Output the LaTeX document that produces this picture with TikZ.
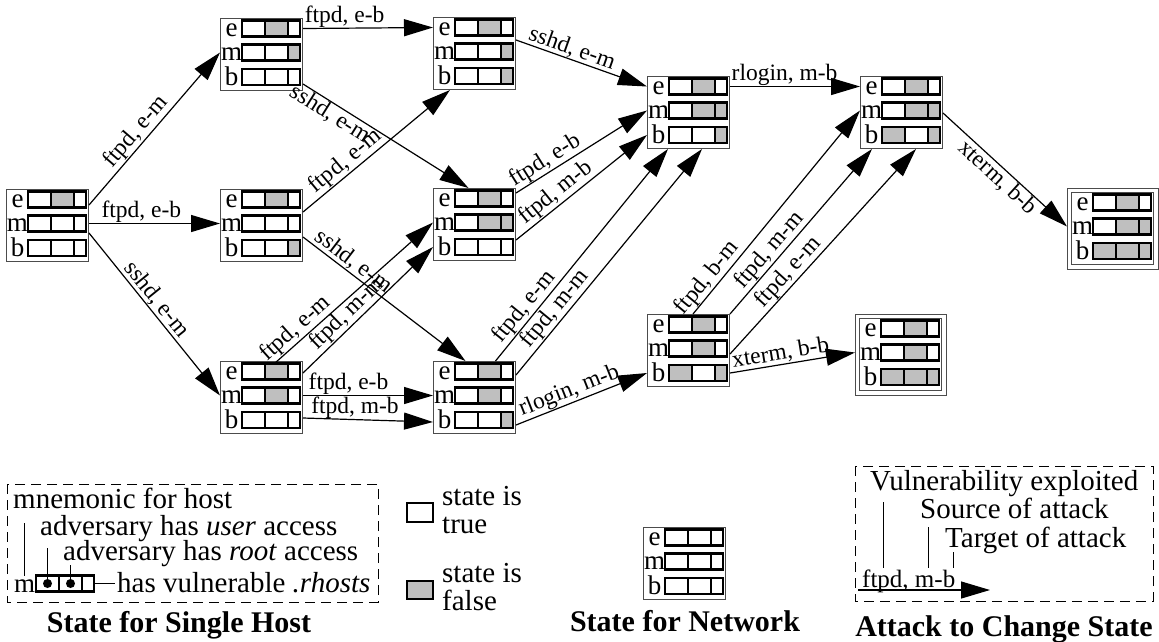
\documentclass[tikz,border=0pt]{standalone}
\usepackage{fontspec}
\setmainfont{Liberation Serif}
\usetikzlibrary{arrows.meta,calc}
\definecolor{cellgray}{gray}{0.75}
\definecolor{framegray}{gray}{0.3}

\tikzset{
  netbox/.style={draw=framegray, line width=1pt, minimum width=82pt, minimum height=72pt,
                 inner sep=0pt, anchor=north west, fill=white},
  rowlbl/.style={font=\fontsize{27}{27}\selectfont, inner sep=0pt, anchor=base},
  cell/.style={draw=black, line width=2.6pt},
  edge/.style={line width=1.2pt, -{Triangle[length=29pt,width=17pt]}},
  lbl/.style={font=\fontsize{23.5}{23.5}\selectfont, inner sep=0.5pt},
  legtext/.style={font=\fontsize{29}{28}\selectfont, inner sep=0pt, anchor=base west},
  captext/.style={font=\fontsize{30}{30}\selectfont\bfseries, inner sep=0pt, anchor=base},
  legbox/.style={draw, dash pattern=on 10pt off 6pt, line width=1pt},
  leader/.style={line width=1pt},
}

% one host: three cells (user, root, .rhosts), #1 = left end of the bar
\newcommand\hostbar[4]{%
  \path #1 coordinate (hb);
  \filldraw[cell, fill=#2] ($(hb)+(0,-8)$) rectangle ($(hb)+(23,8)$);
  \filldraw[cell, fill=#3] ($(hb)+(23,-8)$) rectangle ($(hb)+(46,8)$);
  \filldraw[cell, fill=#4] ($(hb)+(46,-8)$) rectangle ($(hb)+(58,8)$);
}

% network state: name, top-left corner, cell fills of hosts e, m, b
\newcommand\netstate[5]{%
  \node[netbox] (#1) at (#2) {};
  \node[rowlbl] (#1-le) at ($(#1.north west)+(11.5,18.5)$) {e};
  \node[rowlbl] (#1-lm) at ($(#1.north west)+(11.5,42.5)$) {m};
  \node[rowlbl] (#1-lb) at ($(#1.north west)+(11.5,67)$) {b};
  \hostbar{($(#1.north west)+(22,10.5)$)}#3
  \hostbar{($(#1.north west)+(22,34.5)$)}#4
  \hostbar{($(#1.north west)+(22,59)$)}#5
  \coordinate (#1-eW) at ($(#1.north west)+(0,10.5)$);
  \coordinate (#1-mW) at ($(#1.north west)+(0,34.5)$);
  \coordinate (#1-bW) at ($(#1.north west)+(0,59)$);
  \coordinate (#1-eE) at ($(#1.north east)+(0,10.5)$);
  \coordinate (#1-mE) at ($(#1.north east)+(0,34.5)$);
  \coordinate (#1-bE) at ($(#1.north east)+(0,59)$);
}

\begin{document}
\begin{tikzpicture}[x=1pt, y=-1pt]
\useasboundingbox (0,0) rectangle (1159,641);

% ---------------- attack graph states ----------------
\netstate{n0}{6,189}{{white}{cellgray}{white}}{{white}{white}{white}}{{white}{white}{white}}
\netstate{n1}{220,18}{{white}{cellgray}{white}}{{white}{white}{cellgray}}{{white}{white}{white}}
\netstate{n6}{220,189}{{white}{cellgray}{white}}{{white}{white}{white}}{{white}{white}{cellgray}}
\netstate{n8}{220,361}{{white}{cellgray}{white}}{{white}{cellgray}{white}}{{white}{white}{white}}
\netstate{n2}{433,17}{{white}{cellgray}{white}}{{white}{white}{cellgray}}{{white}{white}{cellgray}}
\netstate{n7}{433,188}{{white}{cellgray}{white}}{{white}{cellgray}{cellgray}}{{white}{white}{white}}
\netstate{n9}{433,361}{{white}{cellgray}{white}}{{white}{cellgray}{white}}{{white}{white}{cellgray}}
\netstate{n3}{647,76}{{white}{cellgray}{white}}{{white}{cellgray}{cellgray}}{{white}{white}{cellgray}}
\netstate{n10}{647,314}{{white}{cellgray}{white}}{{white}{cellgray}{white}}{{cellgray}{white}{cellgray}}
\netstate{n4}{860,76}{{white}{cellgray}{white}}{{white}{cellgray}{cellgray}}{{cellgray}{white}{cellgray}}
\netstate{n5}{1071,192}{{white}{cellgray}{white}}{{white}{cellgray}{cellgray}}{{cellgray}{cellgray}{cellgray}}
\netstate{n11}{859,318}{{white}{cellgray}{white}}{{white}{cellgray}{white}}{{cellgray}{cellgray}{cellgray}}

% goal states get a double frame
\draw[framegray, line width=1pt] ($(n5.north west)+(-4,-4)$) rectangle ($(n5.south east)+(4,4)$);
\draw[framegray, line width=1pt] ($(n11.north west)+(-4,-4)$) rectangle ($(n11.south east)+(4,4)$);

% ---------------- attacks ----------------
\draw[edge] ($(n0.north east)+(0,16)$) -- node[lbl, sloped, above, pos=.43] {ftpd, e-m} (n1-mW);
\draw[edge] (n0-mE) -- node[lbl, above, pos=.4] {ftpd, e-b} (n6-mW);
\draw[edge] ($(n0.north east)+(0,44)$) -- node[lbl, sloped, above, pos=.45] {sshd, e-m} (n8-mW);

\draw[edge] (n1-eE) -- node[lbl, above, pos=.32] {ftpd, e-b} (n2-eW);
\draw[edge] ($(n1.north east)+(0,66)$) -- node[lbl, sloped, below, pos=.2] {sshd, e-m} ($(n7.north)+(-6,0)$);

\draw[edge] ($(n6.north east)+(0,23)$) -- node[lbl, sloped, above, pos=.34] {ftpd, e-m} ($(n2.south west)+(17,0)$);
\draw[edge] ($(n6.north east)+(0,48)$) -- node[lbl, sloped, above, pos=.27] {sshd, e-m} ($(n9.north)+(-9,0)$);

\draw[edge] ($(n8.north west)+(55,2)$) -- node[lbl, sloped, above, pos=.18] {ftpd, e-m} (n7-mW);
\draw[edge] ($(n8.north east)+(0,12)$) -- node[lbl, sloped, above, pos=.4] {ftpd, m-m} (n7-bW);
\draw[edge] (n8-mE) -- node[lbl, above, pos=.35] {ftpd, e-b} (n9-mW);
\draw[edge] ($(n8.north east)+(0,57)$) -- node[lbl, above, pos=.4] {ftpd, m-b} ($(n9-bW)+(0,2)$);

\draw[edge] ($(n2.north east)+(0,23)$) -- node[lbl, sloped, above, pos=.4] {sshd, e-m} (n3-eW);
\draw[edge] ($(n7.north east)+(0,5)$) -- node[lbl, sloped, above, pos=.27] {ftpd, e-b} (n3-mW);
\draw[edge] ($(n7.north east)+(0,52)$) -- node[lbl, sloped, above, pos=.36] {ftpd, m-b} (n3-bW);
\draw[edge] ($(n9.north)+(21,0)$) -- node[lbl, sloped, above, pos=.22] {ftpd, e-m} ($(n3.south west)+(21,0)$);
\draw[edge] ($(n9.north east)+(0,14)$) -- node[lbl, sloped, above, pos=.26] {ftpd, m-m} ($(n3.south west)+(55,0)$);
\draw[edge] ($(n9.north east)+(0,64)$) -- node[lbl, sloped, above, pos=.44] {rlogin, m-b} (n10-bW);

\draw[edge] (n3-eE) -- node[lbl, above, pos=.42] {rlogin, m-b} (n4-eW);
\draw[edge] ($(n4.north east)+(0,37)$) -- node[lbl, sloped, below, pos=.5] {xterm, b-b} ($(n5-mW)+(-4,0)$);

\draw[edge] ($(n10.north west)+(46,0)$) -- node[lbl, sloped, above, pos=.14] {ftpd, b-m} (n4-mW);
\draw[edge] (n10.north east) -- node[lbl, sloped, above, pos=.34] {ftpd, m-m} ($(n4.south west)+(12,0)$);
\draw[edge] ($(n10.north east)+(0,40)$) -- node[lbl, sloped, above, pos=.36] {ftpd, e-m} ($(n4.south west)+(56,0)$);
\draw[edge] (n10-bE) -- node[lbl, sloped, above, pos=.42] {xterm, b-b} ($(n11-mW)+(-4,0)$);

% ---------------- legend: single host ----------------
\draw[legbox] (7,484) rectangle (378,602);
\node[legtext] (lg-mn) at (13,508) {mnemonic for host};
\node[legtext] (lg-ua) at (40,535) {adversary has \textit{user} access};
\node[legtext] (lg-ra) at (63,560) {adversary has \textit{root} access};
\node[rowlbl, anchor=base west] (lg-m) at (14,592) {m};
\hostbar{(36,583.5)}{white}{white}{white}
\fill (47.5,583.5) circle (4.5);
\fill (70.5,583.5) circle (4.5);
\node[legtext] (lg-rh) at (117,592) {has vulnerable \textit{.rhosts}};
\draw[leader] (24,523) -- (24,576);
\draw[leader] (47.5,548) -- (47.5,583.5);
\draw[leader] (70.5,565) -- (70.5,583.5);
\draw[leader] (94,583.5) -- (115,583.5);
\node[captext] (cap-host) at (179,632) {State for Single Host};

% ---------------- legend: cell values ----------------
\filldraw[cell, fill=white] (407,503) rectangle (433,522);
\node[legtext] (lg-t1) at (442,505) {state is};
\node[legtext] (lg-t2) at (442,533) {true};
\filldraw[cell, fill=cellgray] (407,581) rectangle (433,599);
\node[legtext] (lg-f1) at (442,582) {state is};
\node[legtext] (lg-f2) at (442,610) {false};

% ---------------- legend: network state ----------------
\netstate{ex}{643,527}{{white}{white}{white}}{{white}{white}{white}}{{white}{white}{white}}
\node[captext] (cap-net) at (685,631) {State for Network};

% ---------------- legend: attack ----------------
\draw[legbox] (855,466) rectangle (1153,601);
\node[legtext] (lg-v) at (870,490) {Vulnerability exploited};
\node[legtext] (lg-s) at (920,518) {Source of attack};
\node[legtext] (lg-tg) at (945,547) {Target of attack};
\coordinate (la0) at (858,590);
\coordinate (la1) at (990,590);
\draw[edge] (la0) -- (la1);
\node[lbl, anchor=base west, inner sep=0pt, font=\fontsize{25}{25}\selectfont] (lg-a) at (862,587) {ftpd, m-b};
\draw[leader] (883,502) -- (883,568);
\draw[leader] (928,527) -- (928,568);
\draw[leader] (953,552) -- (953,568);
\node[captext] (cap-att) at (1004,636) {Attack to Change State};
\end{tikzpicture}
\end{document}
